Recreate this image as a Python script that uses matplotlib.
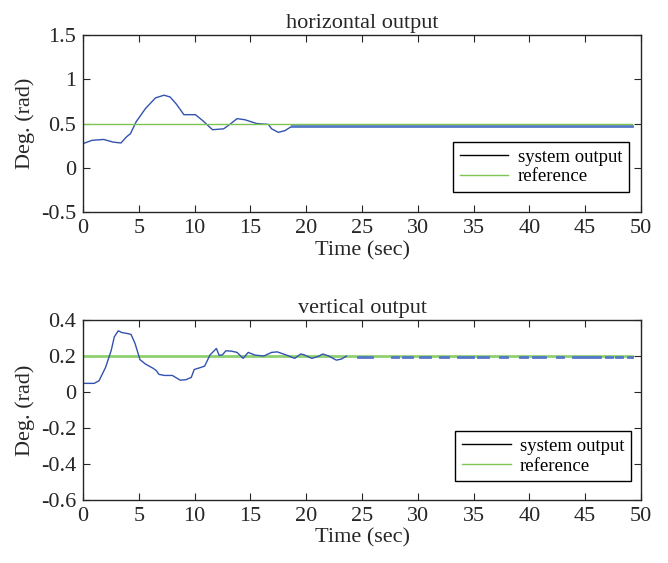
import matplotlib
matplotlib.use("Agg")
import matplotlib.pyplot as plt
from matplotlib.lines import Line2D
from matplotlib.ticker import FuncFormatter
import numpy as np

plt.rcParams['font.family'] = ['Liberation Serif', 'DejaVu Serif']
plt.rcParams['axes.unicode_minus'] = False

# horizontal output (transient part)
t_h = [0, 0.8, 1.85, 2.7, 3.4, 3.9, 4.25, 4.76, 5.6, 6.5, 7.26, 7.8, 8.36, 9.04,
       10.07, 10.75, 11.6, 12.6, 13.15, 13.8, 14.5, 15.55, 16.6, 16.9, 17.5, 18.1, 18.7]
y_h = [0.273, 0.31, 0.32, 0.29, 0.28, 0.35, 0.385, 0.52, 0.67, 0.79, 0.82, 0.80, 0.72, 0.60,
       0.60, 0.53, 0.43, 0.44, 0.49, 0.555, 0.543, 0.50, 0.49, 0.44, 0.40, 0.42, 0.468]
t_h_steady = [18.7, 49.2]
y_h_steady = [0.468, 0.468]
ref_h = 0.5

# vertical output
t_v = [0, 1.0, 1.44, 2.02, 2.53, 2.8, 3.15, 3.5, 3.9, 4.3, 4.66, 5.1, 5.6, 6.3, 6.58, 6.8,
       7.3, 8.0, 8.7, 9.2, 9.7, 9.96, 10.58, 10.9, 11.37, 11.95, 12.2, 12.5, 12.8, 13.3,
       13.8, 14.35, 14.8, 15.4, 16.2, 16.9, 17.4, 18.1, 18.97, 19.5, 19.8, 20.5, 21.0,
       21.5, 22.05, 22.7, 23.15, 23.6]
y_v = [0.048, 0.048, 0.063, 0.137, 0.232, 0.306, 0.34, 0.33, 0.326, 0.32, 0.27, 0.18, 0.155,
       0.131, 0.118, 0.098, 0.092, 0.092, 0.066, 0.068, 0.081, 0.125, 0.137, 0.144, 0.205,
       0.242, 0.203, 0.207, 0.229, 0.227, 0.22, 0.187, 0.22, 0.205, 0.20, 0.22, 0.223, 0.208,
       0.187, 0.211, 0.207, 0.187, 0.196, 0.211, 0.199, 0.177, 0.183, 0.199]
# visible pieces of the settled output (start, end) in seconds
seg_start = [24.6, 27.7, 28.7, 30.2, 32.0, 33.6, 35.4, 37.4, 39.2, 40.3, 42.5, 43.9, 46.9, 47.8, 48.8]
seg_end = [25.9, 28.2, 29.5, 31.1, 32.7, 34.9, 36.3, 38.0, 39.8, 41.4, 43.0, 46.3, 47.4, 48.3, 49.2]
y_v_steady = 0.197
ref_v = 0.2
t_end = 49.2

blue = '#3352b0'
blue_light = '#5577c8'
green = '#7cc553'
txt = '#262626'

fig = plt.figure(figsize=(6.68, 5.63), dpi=100)
ax1 = fig.add_axes([0.1243, 0.6234, 0.8353, 0.3144])
ax2 = fig.add_axes([0.1243, 0.1119, 0.8353, 0.3197])

fmt = FuncFormatter(lambda v, p: '%g' % round(v, 3))

# top
ax1.plot(t_h, y_h, color=blue, lw=1.0)
ax1.plot(t_h_steady, y_h_steady, color=blue_light, lw=2.0)
ax1.plot([0, t_end], [ref_h, ref_h], color=green, lw=1.0)
ax1.set_ylim(-0.5, 1.5)
ax1.set_yticks([-0.5, 0, 0.5, 1, 1.5])
ax1.set_title('horizontal output', fontsize=16, color=txt, pad=5)

# bottom
ax2.plot([0, t_end], [ref_v, ref_v], color='#8fd070', lw=2.0)
ax2.plot(t_v, y_v, color=blue, lw=1.0)
for s, e in zip(seg_start, seg_end):
    ax2.plot([s, e], [y_v_steady, y_v_steady], color=blue_light, lw=2.0)
ax2.set_ylim(-0.6, 0.4)
ax2.set_yticks([-0.6, -0.4, -0.2, 0, 0.2, 0.4])
ax2.set_title('vertical output', fontsize=16, color=txt, pad=5)

handles = [Line2D([], [], color='black', lw=1.0), Line2D([], [], color=green, lw=1.0)]
labels = ['system output', 'reference']
anchors = [(0.978, 0.113), (0.982, 0.105)]

for ax, anc in zip([ax1, ax2], anchors):
    ax.set_xlim(0, 50)
    ax.set_xticks(range(0, 51, 5))
    ax.yaxis.set_major_formatter(fmt)
    ax.set_xlabel('Time (sec)', fontsize=16, color=txt, labelpad=2)
    ax.set_ylabel('Deg. (rad)', fontsize=16, color=txt, labelpad=4)
    ax.tick_params(direction='in', top=True, right=True, length=5, width=0.8,
                   labelsize=16, colors=txt, pad=5)
    for sp in ax.spines.values():
        sp.set_color(txt)
        sp.set_linewidth(1.0)
    leg = ax.legend(handles, labels, loc='lower right', bbox_to_anchor=anc,
                    borderaxespad=0, fontsize=13.5, fancybox=False, framealpha=1,
                    edgecolor='black', handlelength=2.6, labelspacing=0.15,
                    borderpad=0.35, handletextpad=0.5)
    leg.get_frame().set_linewidth(1.0)

fig.savefig('out.png', dpi=100)
